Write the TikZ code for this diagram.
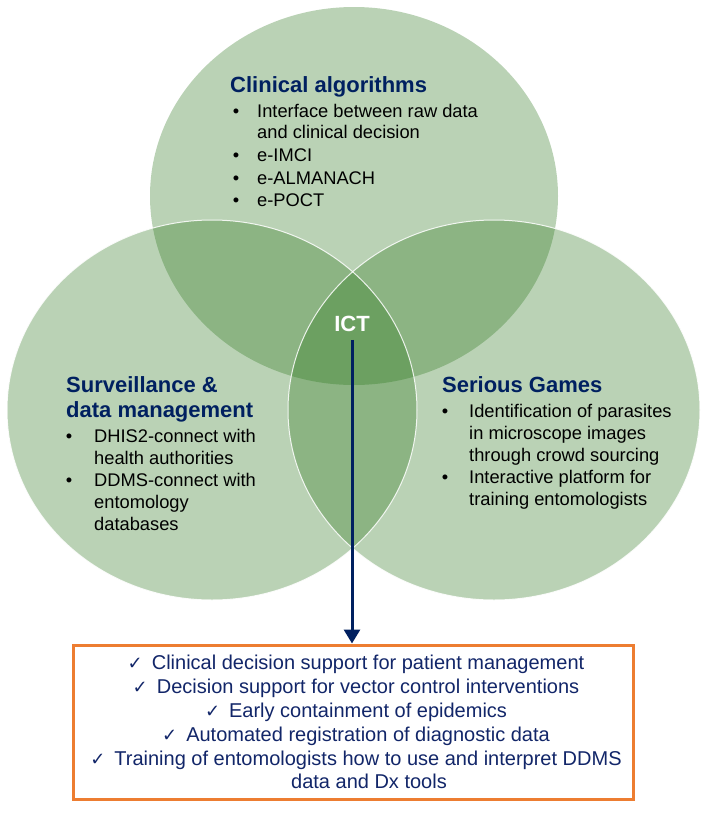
\documentclass[tikz,border=0pt]{standalone}
\usepackage{fontspec}
\setmainfont{Liberation Sans}
\newfontfamily\djv{DejaVu Sans}
\usetikzlibrary{arrows.meta}
\definecolor{vgreen}{RGB}{43,118,27}
\definecolor{navy}{RGB}{0,32,96}
\definecolor{boxorange}{RGB}{237,125,49}
\definecolor{boxtext}{RGB}{18,38,105}
\newcommand{\chk}{{\djv\fontsize{18}{20}\selectfont ✓}\hspace{9pt}}
\begin{document}
\begin{tikzpicture}[x=1pt,y=-1pt,
  venn/.style={fill=vgreen, fill opacity=0.32},
  rim/.style={draw=white, line width=1pt, draw opacity=0.85},
  head/.style={anchor=base west, inner sep=0pt, text=navy, font=\fontsize{22}{26}\selectfont\bfseries},
  item/.style={anchor=base west, inner sep=0pt, text=black, font=\fontsize{18.3}{22}\selectfont},
  dot/.style={anchor=base, inner sep=0pt, text=black, font=\fontsize{18.3}{22}\selectfont},
  outcome/.style={anchor=base, inner sep=0pt, text=boxtext, font=\fontsize{20}{24}\selectfont},
  ictlabel/.style={inner sep=0pt, text=white, font=\fontsize{22}{26}\selectfont\bfseries},
  resultbox/.style={draw=boxorange, line width=3pt, fill=white, minimum width=560pt, minimum height=154pt, inner sep=0pt},
  arr/.style={draw=navy, line width=3pt, -{Triangle[length=14pt,width=16pt]}}
]
\useasboundingbox (0,0) rectangle (702,815);
\fill[white] (0,0) rectangle (702,815);

% Venn circles
\path[venn] (354,196) ellipse [x radius=204pt, y radius=189pt];
\path[venn] (212,410) ellipse [x radius=205pt, y radius=190pt];
\path[venn] (494,410) ellipse [x radius=206pt, y radius=190pt];
\path[rim] (212,410) ellipse [x radius=205pt, y radius=190pt];
\path[rim] (494,410) ellipse [x radius=206pt, y radius=190pt];

% Clinical algorithms
\node[head] (ca) at (230,92) {Clinical algorithms};
\node[dot] (cab1) at (236,117) {•};
\node[item] (ca1) at (257,117) {Interface between raw data};
\node[item] (ca1b) at (257,138.5) {and clinical decision};
\node[dot] (cab2) at (236,161) {•};
\node[item] (ca2) at (257,161) {e-IMCI};
\node[dot] (cab3) at (236,184) {•};
\node[item] (ca3) at (257,184) {e-ALMANACH};
\node[dot] (cab4) at (236,206) {•};
\node[item] (ca4) at (257,206) {e-POCT};

% Surveillance
\node[head] (sd) at (66,392) {Surveillance \&};
\node[head] (sdb) at (66,417) {data management};
\node[dot] (sdd1) at (69,442.5) {•};
\node[item] (sd1) at (94,442.5) {DHIS2-connect with};
\node[item] (sd1b) at (94,464) {health authorities};
\node[dot] (sdd2) at (69,486) {•};
\node[item] (sd2) at (94,486) {DDMS-connect with};
\node[item] (sd2b) at (94,508) {entomology};
\node[item] (sd2c) at (94,530) {databases};

% Serious games
\node[head] (sg) at (442,392.5) {Serious Games};
\node[dot] (sgd1) at (445,417) {•};
\node[item] (sg1) at (469,417) {Identification of parasites};
\node[item] (sg1b) at (469,439) {in microscope images};
\node[item] (sg1c) at (469,461) {through crowd sourcing};
\node[dot] (sgd2) at (445,483) {•};
\node[item] (sg2) at (469,483) {Interactive platform for};
\node[item] (sg2b) at (469,505) {training entomologists};

% ICT
\node[ictlabel] (ict) at (352,324) {ICT};

% Result box
\node[resultbox] (box) at (353,722) {};
\node[outcome] (o1) at (356,669) {\chk Clinical decision support for patient management};
\node[outcome] (o2) at (356,693) {\chk Decision support for vector control interventions};
\node[outcome] (o3) at (356,717) {\chk Early containment of epidemics};
\node[outcome] (o4) at (356,741) {\chk Automated registration of diagnostic data};
\node[outcome] (o5) at (356,765) {\chk Training of entomologists how to use and interpret DDMS};
\node[outcome] (o6) at (369,788.5) {data and Dx tools};

% Arrow
\draw[arr] ([yshift=-8pt]ict.south) -- (ict.south |- box.north);
\end{tikzpicture}
\end{document}
